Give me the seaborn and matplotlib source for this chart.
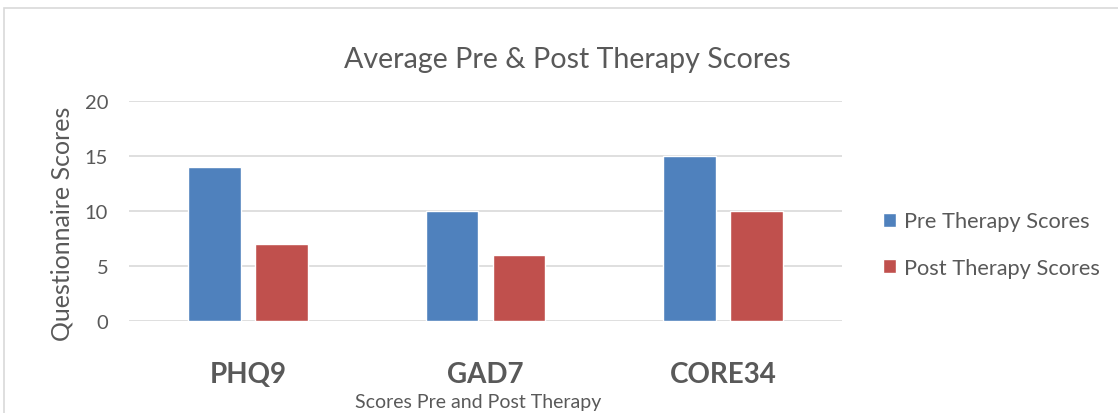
import pandas as pd
import matplotlib.pyplot as plt
import seaborn as sns
from matplotlib.patches import Rectangle

# data
questionnaires = ['PHQ9', 'GAD7', 'CORE34']
pre_scores = [14, 10, 15]
post_scores = [7, 6, 10]
series_names = ['Pre Therapy Scores', 'Post Therapy Scores']

df = pd.DataFrame({
    'Questionnaire': questionnaires * 2,
    'Score': pre_scores + post_scores,
    'Series': [series_names[0]] * 3 + [series_names[1]] * 3,
})

sns.set_style('white')
plt.rcParams['font.family'] = ['Lato', 'DejaVu Sans']
text_col = '#595959'
grid_col = '#D9D9D9'

fig = plt.figure(figsize=(11.18, 4.14), dpi=100)
ax = fig.add_axes([0.1154, 0.2222, 0.6377, 0.5314])

sns.barplot(data=df, x='Questionnaire', y='Score', hue='Series',
            palette=['#4F81BD', '#C0504D'], width=0.564, gap=0.21,
            saturation=1, ax=ax, zorder=3)

ax.set_ylim(0, 20)
ax.set_yticks([0, 5, 10, 15, 20])
ax.yaxis.grid(True, color=grid_col, linewidth=1.2, zorder=0)
ax.set_axisbelow(True)
for s in ax.spines.values():
    s.set_visible(False)
ax.tick_params(axis='both', length=0)
ax.tick_params(axis='y', labelsize=14.5, labelcolor=text_col, pad=15)
ax.tick_params(axis='x', labelsize=20, labelcolor=text_col, pad=29)
for lab in ax.get_xticklabels():
    lab.set_fontweight('bold')

ax.set_xlabel('Scores Pre and Post Therapy', fontsize=14, color=text_col)
ax.xaxis.set_label_coords(0.49, -0.368)
ax.xaxis.label.set_va('center')
ax.set_ylabel('Questionnaire Scores', fontsize=18, color=text_col)
ax.yaxis.set_label_coords(-0.094, 0.445)
ax.yaxis.label.set_va('center')

# title sits centred on the whole chart, not on the plot area
fig.text(567 / 1118, 1 - 60 / 414, 'Average Pre & Post Therapy Scores',
         fontsize=20.6, color=text_col, ha='center', va='center')

ax.legend(loc='center left', bbox_to_anchor=(1.03, 0.348), frameon=False,
          fontsize=15.7, labelcolor=text_col, handlelength=0.6, handleheight=0.6,
          handletextpad=0.35, labelspacing=1.2)

# light chart border
fig.patches.append(Rectangle((4 / 1118, -0.1), 1.2, (414 - 9) / 414 + 0.1,
                             transform=fig.transFigure, fill=False,
                             edgecolor='#D9D9D9', linewidth=1.2))

fig.savefig('out.png', dpi=100)
